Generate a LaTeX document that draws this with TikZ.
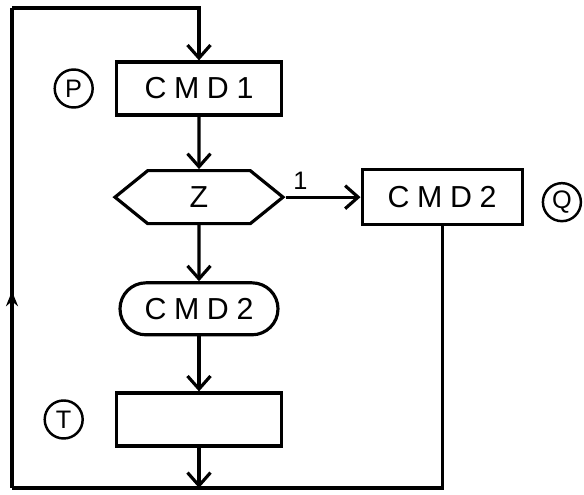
\documentclass[tikz,border=0pt]{standalone}
\usepackage{fontspec}
\usetikzlibrary{arrows.meta, positioning, shapes.symbols, decorations.markings}
\newfontfamily\handfont[LetterSpace=25]{Liberation Sans}

\begin{document}
\begin{tikzpicture}[
    node distance=1.05cm,
    line width=1.8pt,
    every node/.style={font=\handfont\LARGE},
    block/.style={rectangle, draw, minimum width=3.3cm, minimum height=1.06cm, align=center},
    choice/.style={signal, draw, signal to=east and west, signal pointer angle=78,
                   minimum width=3.36cm, minimum height=1.06cm, inner sep=2pt},
    oval/.style={rectangle, draw, rounded corners=0.52cm, minimum width=3.16cm, minimum height=1.04cm},
    tag/.style={circle, draw, line width=1.4pt, minimum size=0.76cm, inner sep=0pt, font=\handfont\Large},
    arrow/.style={-{Straight Barb[length=2.6mm, width=4.6mm]}},
    uparrow/.style={postaction={decorate}, decoration={markings,
                    mark=at position 0.41 with {\arrow{Stealth[length=3mm, width=2.4mm]}}}}
]
    \useasboundingbox (0,0) rectangle (11.68,-9.9);

    % main column
    \node[block] (cmd1) at (3.98,-1.77) {CMD1};
    \node[choice, below=of cmd1] (test) {Z};
    \node[oval, below=1.12cm of test] (cmd2) {CMD2};
    \node[block, below=1.1cm of cmd2] (last) {};

    % branch 1
    \node[block, right=1.5cm of test, minimum width=3.2cm, minimum height=1.1cm] (cmd2b) {CMD2};

    % labels
    \node[tag, left=0.42cm of cmd1] (p) {P};
    \node[tag, left=0.62cm of last] (t) {T};
    \node[tag, right=0.36cm of cmd2b, yshift=-0.1cm] (q) {Q};

    % loop corners
    \coordinate (bl) at (0.24,-9.76);
    \coordinate (tl) at (0.24,-0.16);
    \coordinate (join) at (last.south |- bl);

    \draw[arrow] (cmd1) -- (test);
    \draw[arrow] (test) -- (cmd2);
    \draw[arrow] (cmd2) -- (last);
    \draw[arrow] (test.east) -- node[pos=0.2, above, font=\handfont\Large] {1} (cmd2b);
    \draw[arrow] (last) -- (join);

    % way back to the top
    \draw (cmd2b.south) |- (bl);
    \draw[uparrow] (bl) -- (tl);
    \draw[arrow] (tl) -| (cmd1.north);
\end{tikzpicture}
\end{document}
